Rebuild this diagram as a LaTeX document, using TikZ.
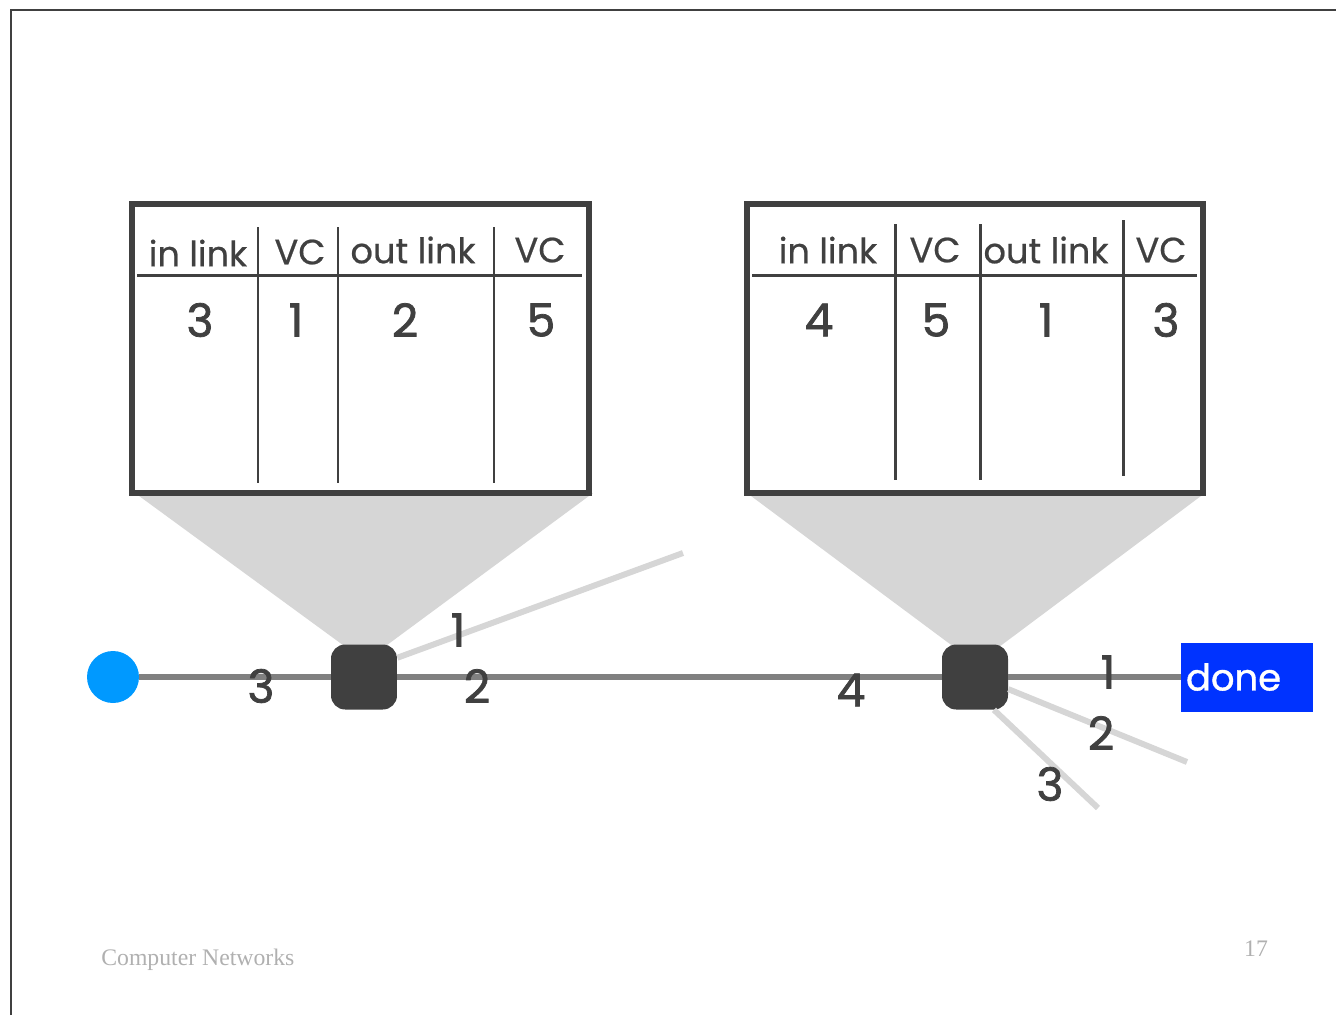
\documentclass[tikz,border=0pt]{standalone}
\usepackage{fontspec}
\setmainfont{Poppins}
\newfontfamily\footfont{Liberation Serif}
\usetikzlibrary{positioning}

\definecolor{swgray}{HTML}{404040}
\definecolor{linkgray}{HTML}{808080}
\definecolor{fadegray}{HTML}{D6D6D6}
\definecolor{hostblue}{HTML}{0099FF}
\definecolor{doneblue}{HTML}{0033FF}
\definecolor{footgray}{HTML}{B0B0B0}

\tikzset{
  switch/.style={fill=swgray, rounded corners=8pt, minimum width=1.32cm, minimum height=1.3cm, inner sep=0pt},
  head/.style={font=\fontsize{20}{20}\selectfont\addfontfeature{FakeBold=0.6}, text=swgray, inner sep=0pt},
  entry/.style={font=\fontsize{26}{26}\selectfont\addfontfeature{FakeBold=1.6}, text=swgray, inner sep=0pt},
  frameline/.style={swgray, line width=3.4pt},
  colline/.style={swgray, line width=1.7pt},
  mainlink/.style={linkgray, line width=3.4pt},
  sidelink/.style={fadegray, line width=3.4pt},
}

\begin{document}
\begin{tikzpicture}[x=0.02cm,y=-0.02cm]
\useasboundingbox (0,0) rectangle (1336,1015);
\draw[swgray, line width=0.6pt] (11,1015) -- (11,10) -- (1336,10);

% funnels
\fill[fadegray] (135,493) -- (593,493) -- (383,648) -- (347,648) -- cycle;
\fill[fadegray] (747,493) -- (1205,493) -- (995,650) -- (958,650) -- cycle;

% table 1
\draw[frameline] (132,204) rectangle (589,493);
\draw[colline] (137,275) -- (582,275);
\foreach \x in {258,338,494} \draw[colline] (\x,227) -- (\x,483);
\node[head] (ha1) at (198,253) {in link};
\node[head] (hb1) at (300,252) {VC};
\node[head] (hc1) at (413,250) {out link};
\node[head] (hd1) at (540,250) {VC};
\node[entry] (ea1) at (200,320) {3};
\node[entry] (eb1) at (296,320) {1};
\node[entry] (ec1) at (405,320) {2};
\node[entry] (ed1) at (541,320) {5};

% table 2
\draw[frameline] (747,204) rectangle (1203,493);
\draw[colline] (752,275) -- (1197,275);
\foreach \x/\t in {895/224,980/224,1123/220} \draw[colline] (\x,\t) -- (\x,\t+256);
\node[head] (ha2) at (828,250) {in link};
\node[head] (hb2) at (935,250) {VC};
\node[head] (hc2) at (1046,250) {out link};
\node[head] (hd2) at (1161,250) {VC};
\node[entry] (ea2) at (819,320) {4};
\node[entry] (eb2) at (936,320) {5};
\node[entry] (ec2) at (1046,320) {1};
\node[entry] (ed2) at (1166,320) {3};

% hosts and switches
\node[circle, fill=hostblue, minimum size=1.04cm, inner sep=0pt] (src) at (113,677) {};
\node[switch] (sw1) at (364,677) {};
\node[switch] (sw2) at (975,677) {};
\node[fill=doneblue, text=white, font=\fontsize{21}{21}\selectfont\addfontfeature{FakeBold=1}, text width=2.44cm,
      minimum height=1.38cm, inner xsep=0.1cm, align=left] (dst) at (1247,677) {done};

\coordinate (up1) at (683,553);
\coordinate (dn2) at (1187,762);
\coordinate (dn3) at (1098,808);

\draw[sidelink] (sw1.30) -- (up1);
\draw[sidelink] (sw2.-20) -- (dn2);
\draw[sidelink] (sw2.-60) -- (dn3);
\draw[mainlink] (src) -- (sw1);
\draw[mainlink] (sw1) -- (sw2);
\draw[mainlink] (sw2) -- (dst);

% link numbers
\node[entry] (n3a) at (261,686) {3};
\node[entry] (n1a) at (458,630) {1};
\node[entry] (n2a) at (477,686) {2};
\node[entry] (n4b) at (851,690) {4};
\node[entry] (n1b) at (1108,672) {1};
\node[entry] (n2b) at (1101,733) {2};
\node[entry] (n3b) at (1050,784) {3};

% footer
\node[font=\footfont\fontsize{13.5}{14}\selectfont, text=footgray, anchor=west, inner sep=0pt] (foot) at (101,960) {Computer Networks};
\node[font=\footfont\fontsize{13.5}{14}\selectfont, text=footgray, inner sep=0pt] (page) at (1256,949) {17};
\end{tikzpicture}
\end{document}
